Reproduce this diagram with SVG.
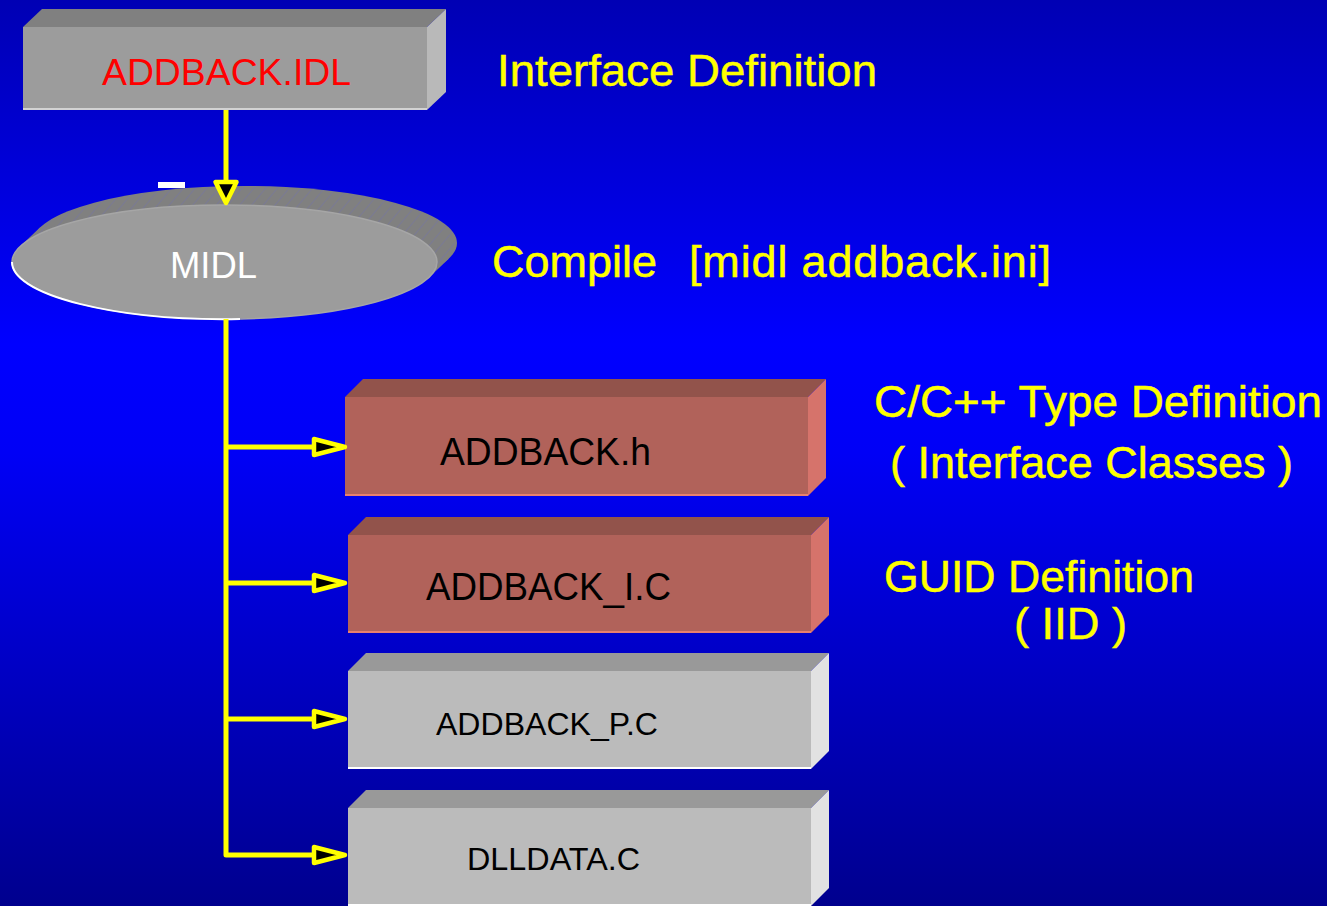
<svg xmlns="http://www.w3.org/2000/svg" width="1327" height="906" viewBox="0 0 1327 906">
  <defs>
    <linearGradient id="bg" x1="0" y1="0" x2="0" y2="1">
      <stop offset="0" stop-color="#0000b4"/>
      <stop offset="0.38" stop-color="#0000ff"/>
      <stop offset="0.5" stop-color="#0000f6"/>
      <stop offset="1" stop-color="#00008e"/>
    </linearGradient>
    <pattern id="hatch" width="9" height="9" patternUnits="userSpaceOnUse" patternTransform="rotate(40)">
      <rect width="9" height="9" fill="#808080"/>
      <line x1="0" y1="0" x2="0" y2="9" stroke="#7070b0" stroke-width="0.8"/>
    </pattern>
  </defs>
  <style>
    .lbl { font-family: "Liberation Sans", Arial, sans-serif; }
    .note { font-family: "Liberation Sans", Arial, sans-serif; font-size: 45px; fill: #ffff00; stroke: #ffff00; stroke-width: 0.5; }
    .conn { fill: none; stroke: #ffff00; stroke-width: 5; stroke-linejoin: round; stroke-linecap: butt; }
    .head { fill: #000000; stroke: #ffff00; stroke-width: 4.5; stroke-linejoin: round; }
    .g-front { fill: #9c9c9c; }
    .g-top { fill: #808080; }
    .g-side { fill: #b9b9b9; }
    .r-front { fill: #b1625a; }
    .r-top { fill: #92534b; }
    .r-side { fill: #d6736b; }
    .l-front { fill: #bbbbbb; }
    .l-top { fill: #999999; }
    .l-side { fill: #e2e2e2; }
  </style>

  <rect width="1327" height="906" fill="url(#bg)"/>

  <!-- ADDBACK.IDL -->
  <g id="node-idl">
    <polygon class="g-top" points="23,27 42,9 446,9 427,27"/>
    <polygon class="g-side" points="427,27 446,9 446,92 427,110"/>
    <rect class="g-front" x="23" y="27" width="404" height="83"/>
    <line x1="23" y1="109" x2="427" y2="109" stroke="#d2d2d2" stroke-width="2"/>
    <text class="lbl" x="102" y="85" font-size="37" textLength="249" lengthAdjust="spacingAndGlyphs" fill="#ff0000">ADDBACK.IDL</text>
  </g>

  <!-- MIDL -->
  <g id="node-midl">
    <rect x="158" y="182" width="27" height="6" fill="#ffffff"/>
    <ellipse cx="244.5" cy="243" rx="212.5" ry="57" fill="url(#hatch)"/>
    <polygon points="429,277.5 449,258.5 40,227.5 20,246.5" fill="url(#hatch)"/>
    <ellipse cx="224.5" cy="262" rx="212.5" ry="57" fill="#9c9c9c" stroke="#a6a6a6" stroke-width="1.5"/>
    <path d="M12,262 A212.5,57 0 0,0 240,319" fill="none" stroke="#ffffff" stroke-width="2"/>
    <text class="lbl" x="170" y="278" font-size="36" textLength="87" lengthAdjust="spacingAndGlyphs" fill="#ffffff">MIDL</text>
  </g>

  <!-- ADDBACK.h -->
  <g id="node-h">
    <polygon class="r-top" points="345,397 363,379 826,379 808,397"/>
    <polygon class="r-side" points="808,397 826,379 826,478 808,496"/>
    <rect class="r-front" x="345" y="397" width="463" height="99"/>
    <line x1="345" y1="495" x2="808" y2="495" stroke="#e8806e" stroke-width="2"/>
    <text class="lbl" x="440" y="465" font-size="39" textLength="211" lengthAdjust="spacingAndGlyphs" fill="#000000">ADDBACK.h</text>
  </g>

  <!-- ADDBACK_I.C -->
  <g id="node-ic">
    <polygon class="r-top" points="348,535 366,517 829,517 811,535"/>
    <polygon class="r-side" points="811,535 829,517 829,615 811,633"/>
    <rect class="r-front" x="348" y="535" width="463" height="98"/>
    <line x1="348" y1="632" x2="811" y2="632" stroke="#e8806e" stroke-width="2"/>
    <text class="lbl" x="426" y="600" font-size="39" textLength="245" lengthAdjust="spacingAndGlyphs" fill="#000000">ADDBACK_I.C</text>
  </g>

  <!-- ADDBACK_P.C -->
  <g id="node-pc">
    <polygon class="l-top" points="348,671 366,653 829,653 811,671"/>
    <polygon class="l-side" points="811,671 829,653 829,751 811,769"/>
    <rect class="l-front" x="348" y="671" width="463" height="98"/>
    <line x1="348" y1="768" x2="811" y2="768" stroke="#ffffff" stroke-width="2"/>
    <text class="lbl" x="436" y="735" font-size="32" textLength="222" lengthAdjust="spacingAndGlyphs" fill="#000000">ADDBACK_P.C</text>
  </g>

  <!-- DLLDATA.C -->
  <g id="node-dll">
    <polygon class="l-top" points="348,808 366,790 829,790 811,808"/>
    <polygon class="l-side" points="811,808 829,790 829,888 811,906"/>
    <rect class="l-front" x="348" y="808" width="463" height="98"/>
    <line x1="348" y1="905" x2="811" y2="905" stroke="#ffffff" stroke-width="2"/>
    <text class="lbl" x="467" y="870" font-size="32" textLength="173" lengthAdjust="spacingAndGlyphs" fill="#000000">DLLDATA.C</text>
  </g>

  <!-- connectors -->
  <g id="connectors">
    <line class="conn" x1="226" y1="110" x2="226" y2="182"/>
    <polygon class="head" points="215.5,182 236.5,182 226,203"/>
    <polyline class="conn" points="226,319 226,855 314,855"/>
    <line class="conn" x1="226" y1="447" x2="314" y2="447"/>
    <line class="conn" x1="226" y1="583" x2="314" y2="583"/>
    <line class="conn" x1="226" y1="719" x2="314" y2="719"/>
    <polygon class="head" points="314,439 314,455 345,447"/>
    <polygon class="head" points="314,575 314,591 345,583"/>
    <polygon class="head" points="314,711 314,727 345,719"/>
    <polygon class="head" points="314,847 314,863 345,855"/>
  </g>

  <!-- annotations -->
  <g id="notes">
    <text class="note" x="497" y="86" textLength="380" lengthAdjust="spacingAndGlyphs">Interface Definition</text>
    <text class="note" x="492" y="277" textLength="165" lengthAdjust="spacingAndGlyphs">Compile</text>
    <text class="note" x="689" y="277" textLength="362" lengthAdjust="spacing">[midl addback.ini]</text>
    <text class="note" x="874" y="417" textLength="448" lengthAdjust="spacingAndGlyphs">C/C++ Type Definition</text>
    <text class="note" x="890" y="478" textLength="403" lengthAdjust="spacingAndGlyphs">( Interface Classes )</text>
    <text class="note" x="884" y="592" textLength="310" lengthAdjust="spacingAndGlyphs">GUID Definition</text>
    <text class="note" x="1014" y="639" textLength="113" lengthAdjust="spacingAndGlyphs">( IID )</text>
  </g>
</svg>
